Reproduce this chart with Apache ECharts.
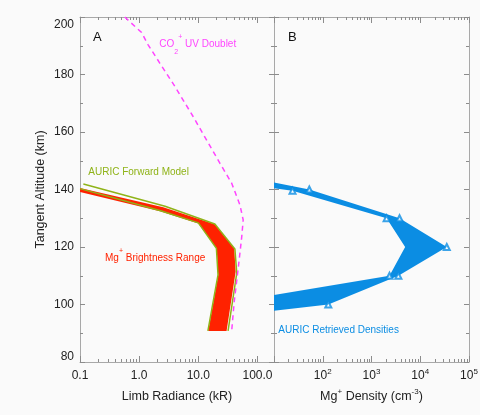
<!DOCTYPE html>
<html>
<head>
<meta charset="utf-8">
<script src="https://cdn.jsdelivr.net/npm/echarts@6/dist/echarts.min.js"></script>
<style>
html,body{margin:0;padding:0;background:#fafafa;}
#c{width:480px;height:415px;}
</style>
</head>
<body>
<div id="c"></div>
<script>
// ---------- Data ----------
// Panel A: limb radiance (kR) vs tangent altitude (km)
const redHi   = [[0.1,140.5],[2.55,133.8],[19.0,127.9],[40.4,119.5],[42.7,111.4],[30.0,90.8]];
const redLo   = [[0.1,139.1],[2.25,132.4],[10.0,128.2],[20.4,119.5],[21.7,110.3],[14.7,90.8]];
const greenHi = [[0.114,141.9],[2.74,134.2],[19.0,128.0],[41.5,119.3],[44.6,110.9],[31.8,90.8]];
const greenLo = [[0.1,140.3],[2.3,132.6],[10.0,128.4],[20.2,119.5],[21.5,110.3],[14.5,90.8]];
const co2Doublet = [[0.57,200.0],[1.1,194.6],[1.4,190.5],[2.24,183.9],[4.03,175.8],[8.2,165.3],
  [13.8,157.2],[23.2,149.1],[36.6,142.2],[50.5,134.6],[57.3,129.4],[53.8,123.0],[47.2,112.6],
  [40.4,101.0],[36.6,90.8]];
// Panel B: Mg+ density (cm-3) vs altitude
const densHi = [[10,142.4],[53,140],[3760,130],[35000,120],[3560,110],[130,100],[10,97.8]];
const densLo = [[10,140.4],[24,139.6],[2040,130],[4900,120],[2340,110],[10,103.3]];
const densMarks = [[24,139.6],[53,140],[2040,130],[3760,130],[35000,120],[2340,110],[3560,110],[130,100]];

// Ticks
const altitudeTicks  = [80, 100, 120, 140, 160, 180, 200];
const radianceTicks  = [0.1, 1, 10, 100];
const radianceLabels = ['0.1', '1.0', '10.0', '100.0'];
const radianceMinor  = [0.2,0.3,0.4,0.5,0.6,0.7,0.8,0.9, 2,3,4,5,6,7,8,9, 20,30,40,50,60,70,80,90];
const densityTicks   = [10, 100, 1000, 10000, 100000];
const densityLabelTicks = [100, 1000, 10000, 100000];
const densityExp     = ['2', '3', '4', '5'];
const densityMinor   = [20,30,40,50,60,70,80,90, 200,300,400,500,600,700,800,900,
  2000,3000,4000,5000,6000,7000,8000,9000, 20000,30000,40000,50000,60000,70000,80000,90000];

// ---------- Styles ----------
const FONT = 'Liberation Sans, Arial, Helvetica, sans-serif';
const LINE_GREY = '#a8a8a8';
const TICK_GREY = '#8c8c8c';
const TXT = '#222';
const RED = '#ff2200';
const GREEN = '#8fb318';
const MAGENTA = '#ff44ff';
const BLUE = '#0b8de3';

const chart = echarts.init(document.getElementById('c'), null, {renderer: 'canvas'});

function logX(grid, pos, min, max, ticks, len, labelCfg, showLine) {
  return {
    type: 'log', logBase: 10, gridIndex: grid, position: pos, min: min, max: max,
    axisLine: {show: showLine, onZero: false, lineStyle: {color: LINE_GREY, width: 1}},
    axisTick: {show: true, inside: true, length: len, customValues: ticks, lineStyle: {color: TICK_GREY, width: 1}},
    minorTick: {show: false},
    splitLine: {show: false},
    axisLabel: labelCfg || {show: false}
  };
}

function approxIndex(arr, v) {
  for (let i = 0; i < arr.length; i++) {
    if (Math.abs(Math.log10(v / arr[i])) < 1e-6) return i;
  }
  return -1;
}

const xAxes = [
  logX(0, 'bottom', 0.1, 190, radianceTicks, 6, {
    show: true, customValues: radianceTicks, margin: 6, fontSize: 12, lineHeight: 16, color: TXT, fontFamily: FONT,
    formatter: v => { const i = approxIndex(radianceTicks, v); return i >= 0 ? radianceLabels[i] : ''; }
  }, true),
  logX(0, 'bottom', 0.1, 190, radianceMinor, 3, null, false),
  logX(0, 'top', 0.1, 190, radianceTicks, 6, null, true),
  logX(0, 'top', 0.1, 190, radianceMinor, 3, null, false),
  logX(1, 'bottom', 10, 100000, densityTicks, 6, {
    show: true, customValues: densityLabelTicks, margin: 6, color: TXT, fontFamily: FONT,
    formatter: v => { const i = approxIndex(densityLabelTicks, v); return i >= 0 ? '{b|10}{sup|' + densityExp[i] + '}' : ''; },
    rich: {
      b: {fontSize: 12, lineHeight: 16, color: TXT, fontFamily: FONT},
      sup: {fontSize: 8, lineHeight: 10, verticalAlign: 'top', color: TXT, fontFamily: FONT}
    }
  }, true),
  logX(1, 'bottom', 10, 100000, densityMinor, 3, null, false),
  logX(1, 'top', 10, 100000, densityTicks, 6, null, true),
  logX(1, 'top', 10, 100000, densityMinor, 3, null, false)
];
xAxes[0].name = 'Limb Radiance (kR)';
xAxes[0].nameLocation = 'middle';
xAxes[0].nameGap = 28;
xAxes[0].nameTextStyle = {fontSize: 12.5, color: TXT, fontFamily: FONT};
xAxes[4].name = 'Mg{sup|+} Density (cm{sup|-3})';
xAxes[4].nameLocation = 'middle';
xAxes[4].nameGap = 26;
xAxes[4].nameTextStyle = {fontSize: 12.5, lineHeight: 18, color: TXT, fontFamily: FONT,
  rich: {sup: {fontSize: 8, lineHeight: 10, verticalAlign: 'top', color: TXT, fontFamily: FONT}}};

const yLabelFont = {fontSize: 12, color: TXT, fontFamily: FONT};
function yAx(grid, pos, labels) {
  const a = {
    type: 'value', gridIndex: grid, position: pos, min: 80, max: 200, interval: 20,
    axisLine: {show: true, onZero: false, lineStyle: {color: LINE_GREY, width: 1}},
    axisTick: {show: true, inside: true, length: 5, lineStyle: {color: TICK_GREY, width: 1}},
    minorTick: {show: true, splitNumber: 2, length: 3, lineStyle: {color: TICK_GREY, width: 1}},
    splitLine: {show: false},
    axisLabel: {show: false}
  };
  if (labels) {
    const last = altitudeTicks.length - 1;
    a.axisLabel = {show: true, margin: 6, fontSize: 12, color: TXT, fontFamily: FONT,
      formatter: v => {
        if (v === altitudeTicks[last]) return '{t|' + v + '}';
        if (v === altitudeTicks[0]) return '{b|' + v + '}';
        return '{n|' + v + '}';
      },
      rich: {
        t: Object.assign({padding: [16, 0, 0, 0]}, yLabelFont),
        b: Object.assign({padding: [0, 0, 10, 0]}, yLabelFont),
        n: Object.assign({}, yLabelFont)
      }};
    a.name = 'Tangent Altitude (km)';
    a.nameLocation = 'middle';
    a.nameGap = 33;
    a.nameTextStyle = {fontSize: 12.5, color: TXT, fontFamily: FONT};
  }
  return a;
}
const yAxes = [yAx(0, 'left', true), yAx(0, 'right', false), yAx(1, 'left', false), yAx(1, 'right', false)];

function band(hi, lo, xi, yi, color) {
  const ring = hi.concat(lo.slice().reverse());
  return {
    type: 'custom', xAxisIndex: xi, yAxisIndex: yi, clip: true, silent: true,
    data: ring,
    renderItem: function (params, api) {
      if (params.dataIndex !== 0) return null;
      const pts = ring.map(p => api.coord(p));
      return {type: 'polygon', shape: {points: pts}, style: {fill: color, stroke: null}};
    }
  };
}

function line(data, color, dashed) {
  return {
    type: 'line', xAxisIndex: 0, yAxisIndex: 0, data: data, showSymbol: false, symbol: 'none',
    silent: true, clip: true,
    lineStyle: {color: color, width: 1.5, type: dashed ? [5, 4] : 'solid'}
  };
}

const option = {
  backgroundColor: '#fafafa',
  animation: false,
  grid: [
    {left: 80, top: 17, width: 194, height: 345, outerBoundsMode: 'none', containLabel: false},
    {left: 274, top: 17, width: 195, height: 345, outerBoundsMode: 'none', containLabel: false}
  ],
  xAxis: xAxes,
  yAxis: yAxes,
  series: [
    band(redHi, redLo, 0, 0, RED),
    line(greenHi, GREEN, false),
    line(greenLo, GREEN, false),
    line(co2Doublet, MAGENTA, true),
    band(densHi, densLo, 4, 2, BLUE),
    {
      type: 'scatter', xAxisIndex: 4, yAxisIndex: 2, data: densMarks, symbol: 'emptyTriangle',
      symbolSize: 6, silent: true, itemStyle: {color: BLUE, borderColor: BLUE, borderWidth: 1}
    }
  ],
  graphic: [
    {type: 'text', x: 93, y: 37.5, silent: true,
      style: {text: 'A', fill: '#111', fontSize: 13, fontFamily: FONT, verticalAlign: 'middle'}},
    {type: 'text', x: 288, y: 37, silent: true,
      style: {text: 'B', fill: '#111', fontSize: 13, fontFamily: FONT, verticalAlign: 'middle'}},
    {type: 'text', x: 159.3, y: 33.2, silent: true,
      style: {text: 'CO{sub|2}{sup|+} UV Doublet', fill: MAGENTA, fontSize: 10, fontFamily: FONT,
        lineHeight: 22, verticalAlign: 'top',
        rich: {sub: {fontSize: 7, lineHeight: 8, verticalAlign: 'bottom', fill: MAGENTA, fontFamily: FONT},
               sup: {fontSize: 7, lineHeight: 12, verticalAlign: 'top', fill: MAGENTA, fontFamily: FONT}}}},
    {type: 'text', x: 88.3, y: 172.5, silent: true,
      style: {text: 'AURIC Forward Model', fill: GREEN, fontSize: 10, fontFamily: FONT, verticalAlign: 'middle'}},
    {type: 'text', x: 105, y: 247.5, silent: true,
      style: {text: 'Mg{sup|+} Brightness Range', fill: RED, fontSize: 10, fontFamily: FONT,
        lineHeight: 22, verticalAlign: 'top',
        rich: {sup: {fontSize: 7, lineHeight: 12, verticalAlign: 'top', fill: RED, fontFamily: FONT}}}},
    {type: 'text', x: 278.3, y: 330.5, silent: true,
      style: {text: 'AURIC Retrieved Densities', fill: BLUE, fontSize: 10, fontFamily: FONT, verticalAlign: 'middle'}}
  ]
};
chart.setOption(option);
</script>
</body>
</html>
